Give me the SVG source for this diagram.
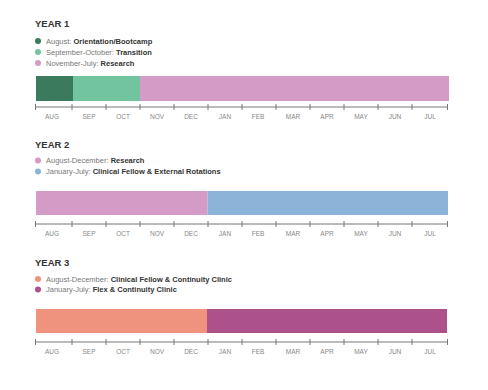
<svg xmlns="http://www.w3.org/2000/svg" width="488" height="390" viewBox="0 0 488 390">
<defs>
<style>
.title{font-family:"Liberation Sans",Arial,sans-serif;font-size:9.5px;font-weight:bold;fill:#333}
.leg{font-family:"Liberation Sans",Arial,sans-serif;font-size:7.5px;fill:#777}
.leg tspan.b{fill:#333;font-weight:bold}
.mon{font-family:"Liberation Sans",Arial,sans-serif;font-size:6.5px;fill:#888;text-anchor:middle}
.axis{stroke:#777;stroke-width:1;fill:none}
</style>
<g id="axisTpl">
<path class="axis" d="M35.5 0H447.5M35.5 -3V3M72 -3V3M106 -3V3M140 -3V3M174 -3V3M208 -3V3M242 -3V3M276 -3V3M310 -3V3M344 -3V3M378 -3V3M412 -3V3M447.5 -3V3"/>
<g class="mon">
<text x="52" y="12">AUG</text><text x="89" y="12">SEP</text><text x="123" y="12">OCT</text><text x="157" y="12">NOV</text><text x="191" y="12">DEC</text><text x="225" y="12">JAN</text><text x="258" y="12">FEB</text><text x="293" y="12">MAR</text><text x="327" y="12">APR</text><text x="361" y="12">MAY</text><text x="395" y="12">JUN</text><text x="430" y="12">JUL</text>
</g>
</g>
</defs>
<rect width="488" height="390" fill="#fff"/>

<g id="year1">
<text class="title" x="35" y="27">YEAR 1</text>
<circle cx="38" cy="41" r="3" fill="#3b7a5c"/>
<text class="leg" x="46" y="43.5">August: <tspan class="b">Orientation/Bootcamp</tspan></text>
<circle cx="38" cy="52" r="3" fill="#72c49e"/>
<text class="leg" x="46" y="54.5">September-October: <tspan class="b">Transition</tspan></text>
<circle cx="38" cy="63" r="3" fill="#d49bc7"/>
<text class="leg" x="46" y="65.5">November-July: <tspan class="b">Research</tspan></text>
<rect x="36" y="76" width="37" height="25" fill="#3b7a5c"/>
<rect x="73" y="76" width="67" height="25" fill="#72c49e"/>
<rect x="140" y="76" width="309" height="25" fill="#d49bc7"/>
<use href="#axisTpl" y="107"/>
</g>

<g id="year2">
<text class="title" x="35" y="148">YEAR 2</text>
<circle cx="38" cy="160.5" r="3" fill="#d49bc7"/>
<text class="leg" x="46" y="163">August-December: <tspan class="b">Research</tspan></text>
<circle cx="38" cy="171.5" r="3" fill="#8cb4d8"/>
<text class="leg" x="46" y="174">January-July: <tspan class="b">Clinical Fellow &amp; External Rotations</tspan></text>
<rect x="36" y="191" width="171.5" height="24" fill="#d49bc7"/>
<rect x="207.5" y="191" width="240.5" height="24" fill="#8cb4d8"/>
<use href="#axisTpl" y="224"/>
</g>

<g id="year3">
<text class="title" x="35" y="265.5">YEAR 3</text>
<circle cx="38" cy="279" r="3" fill="#ef937e"/>
<text class="leg" x="46" y="281.5">August-December: <tspan class="b">Clinical Fellow &amp; Continuity Clinic</tspan></text>
<circle cx="38" cy="289.5" r="3" fill="#ac5189"/>
<text class="leg" x="46" y="292">January-July: <tspan class="b">Flex &amp; Continuity Clinic</tspan></text>
<rect x="36" y="309" width="171" height="24" fill="#ef937e"/>
<rect x="207" y="309" width="240" height="24" fill="#ac5189"/>
<use href="#axisTpl" y="342"/>
</g>
</svg>
